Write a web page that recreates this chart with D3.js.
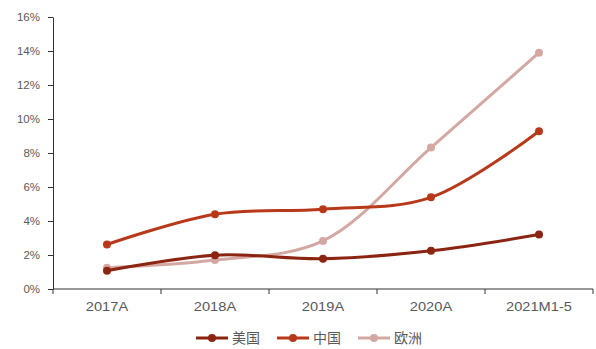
<!DOCTYPE html>
<html>
<head>
<meta charset="utf-8">
<script src="https://cdn.jsdelivr.net/npm/d3@7"></script>
<style>
  body { margin: 0; background: #fff; }
  svg { display: block; font-family: "Liberation Sans", Arial, sans-serif; }
</style>
</head>
<body>
<div id="wrapper"></div>
<script>
const categories = ["2017A", "2018A", "2019A", "2020A", "2021M1-5"]
const usa = [1.07, 1.99, 1.78, 2.25, 3.2]
const china = [2.62, 4.4, 4.69, 5.39, 9.28]
const europe = [1.25, 1.7, 2.83, 8.32, 13.9]
const seriesNames = ["美国", "中国", "欧洲"]
const colors = ["#8b2410", "#b8391a", "#d4a8a2"]
const yTicks = [0, 2, 4, 6, 8, 10, 12, 14, 16]

const width = 596
const height = 349
let dimensions = {
  margin: { top: 17, right: 3, bottom: 60, left: 53 }
}
dimensions.boundedWidth = width - dimensions.margin.left - dimensions.margin.right
dimensions.boundedHeight = height - dimensions.margin.top - dimensions.margin.bottom

const svg = d3.select("#wrapper")
  .append("svg")
  .attr("width", width)
  .attr("height", height)

const bounds = svg.append("g")
  .attr("transform", `translate(${dimensions.margin.left},${dimensions.margin.top})`)

const xScaler = d3.scaleBand()
  .domain(categories)
  .range([0, dimensions.boundedWidth])

const yScaler = d3.scaleLinear()
  .domain([0, 16])
  .range([dimensions.boundedHeight, 0])

// y axis
const yAxis = bounds.append("g")
  .call(d3.axisLeft(yScaler).tickValues(yTicks).tickSize(5).tickSizeOuter(0).tickFormat(d => d + "%"))
yAxis.select(".domain").attr("stroke", "#333")
yAxis.selectAll(".tick line").attr("stroke", "#333")
yAxis.selectAll("text")
  .attr("fill", "#595959")
  .attr("font-size", "11.5px")
  .attr("x", -13)

// x axis, ticks at band edges
const xAxis = bounds.append("g")
  .attr("transform", `translate(0,${dimensions.boundedHeight})`)
xAxis.append("line")
  .attr("x1", 0).attr("x2", dimensions.boundedWidth)
  .attr("stroke", "#333")
const edges = categories.map(c => xScaler(c)).concat([dimensions.boundedWidth])
xAxis.selectAll(".edge")
  .data(edges)
  .enter()
  .append("line")
  .attr("x1", d => d).attr("x2", d => d)
  .attr("y1", 0).attr("y2", 5)
  .attr("stroke", "#333")
// labels in the picture are a bit wider than the font, so stretch them
xAxis.selectAll(".lab")
  .data(categories)
  .enter()
  .append("text")
  .attr("transform", d => `translate(${xScaler(d) + xScaler.bandwidth() / 2},22) scale(1.22,1)`)
  .attr("text-anchor", "middle")
  .attr("fill", "#595959")
  .attr("font-size", "12px")
  .text(d => d)

const allSeries = [usa, china, europe]
const lineGen = d3.line()
  .x((d, i) => xScaler(categories[i]) + xScaler.bandwidth() / 2)
  .y(d => yScaler(d))
  .curve(d3.curveCatmullRom.alpha(0.5))

// draw europe first so the reds sit on top
const order = [2, 0, 1]
order.forEach(k => {
  const g = bounds.append("g")
  g.append("path")
    .datum(allSeries[k])
    .attr("d", lineGen)
    .attr("fill", "none")
    .attr("stroke", colors[k])
    .attr("stroke-width", 3)
  g.selectAll("circle")
    .data(allSeries[k])
    .enter()
    .append("circle")
    .attr("cx", (d, i) => xScaler(categories[i]) + xScaler.bandwidth() / 2)
    .attr("cy", d => yScaler(d))
    .attr("r", 4)
    .attr("fill", colors[k])
})

// legend
const legendX = [196, 277, 358]
const legend = svg.append("g").attr("transform", "translate(0,338)")
seriesNames.forEach((name, k) => {
  const item = legend.append("g").attr("transform", `translate(${legendX[k]},0)`)
  item.append("line")
    .attr("x1", 0).attr("x2", 32)
    .attr("stroke", colors[k]).attr("stroke-width", 3)
  item.append("circle").attr("cx", 16).attr("r", 4).attr("fill", colors[k])
  item.append("text")
    .attr("x", 36).attr("y", 5)
    .attr("fill", "#595959")
    .attr("font-size", "14px")
    .attr("font-family", "'Noto Sans CJK SC', sans-serif")
    .text(name)
})
</script>
</body>
</html>
